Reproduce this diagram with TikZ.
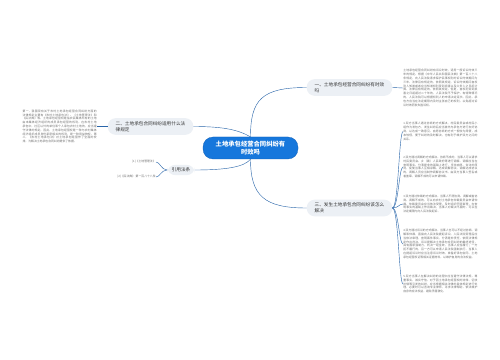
\documentclass[tikz,border=0pt]{standalone}
\usepackage{fontspec}
\newfontfamily\cjk{Noto Sans CJK SC}
\usetikzlibrary{positioning,calc}
\XeTeXlinebreaklocale "zh"
\XeTeXlinebreakskip=0pt plus 1pt
\definecolor{mindBlue}{RGB}{22,119,220}
\definecolor{mindBlueEdge}{RGB}{12,92,180}
\definecolor{mindLine}{RGB}{42,102,170}
\definecolor{mindGrey}{RGB}{236,240,245}
\definecolor{mindText}{RGB}{51,51,51}
\definecolor{mindNote}{RGB}{110,110,110}

\begin{document}
\begin{tikzpicture}[
  x=0.05cm,y=-0.05cm,
  rootnode/.style={
    draw=mindBlueEdge,
    fill=mindBlue,
    rounded corners=0.5cm,
    minimum width=4.75cm,
    minimum height=1.1cm,
    align=center,
    text=white,
    font=\cjk\bfseries\fontsize{9pt}{11.4pt}\selectfont
  },
  branchnode/.style={
    fill=mindGrey,
    rounded corners=0.4cm,
    inner xsep=0.4cm,
    inner ysep=0.15cm,
    align=left,
    text=mindText,
    font=\cjk\fontsize{6.6pt}{9pt}\selectfont
  },
  leafnote/.style={
    anchor=west,
    inner sep=0.3pt,
    text width=3.7cm,
    align=justify,
    text=mindNote,
    font=\cjk\fontsize{4.05pt}{5.4pt}\selectfont
  },
  refnote/.style={
    anchor=east,
    inner sep=0.3pt,
    text=mindNote,
    font=\cjk\fontsize{4.05pt}{5.4pt}\selectfont
  },
  link/.style={draw=mindLine,line width=0.6pt}
]
  \useasboundingbox[fill=white] (0,0) rectangle (500,360);

  \node[rootnode] (root) at (250.5,148) {土地承包经营合同纠纷有\\时效吗};

  \node[branchnode] (timebr) at (349.5,87.5) {一、土地承包经营合同纠纷有时效\\吗};
  \node[branchnode] (lawbr) at (150.5,126.5) {二、土地承包合同纠纷适用什么法\\律规定};
  \node[branchnode] (solvebr) at (349.5,208) {三、发生土地承包合同纠纷该怎么\\解决};
  \node[branchnode,inner xsep=0.22cm] (refbr) at (181,170) {引用法条};

  \node[leafnote] (timenote) at (403,88) {土地承包经营合同纠纷有诉讼时效，适用一般诉讼时效三年的规定。根据《中华人民共和国民法典》第一百八十八条规定，向人民法院请求保护民事权利的诉讼时效期间为三年。法律另有规定的，依照其规定。诉讼时效期间自权利人知道或者应当知道权利受到损害以及义务人之日起计算。法律另有规定的，依照其规定。但是，自权利受到损害之日起超过二十年的，人民法院不予保护，有特殊情况的，人民法院可以根据权利人的申请决定延长。因此，承包方应当在法定期限内及时主张自己的权利，以免超过诉讼时效而丧失胜诉权。};

  \node[leafnote,anchor=east] (lawnote) at (97,126.5) {第一，我国现有关于农村土地承包经营合同纠纷方面的法律规定主要有《农村土地承包法》、《土地管理法》和《民法典》等。土地承包经营权是指农民集体所有的土地由本集体经济组织的成员承包经营的权利。在农村土地承包中，社区以外的单位和个人承包农村土地的，应当遵守法律的规定。因此，土地承包经营权是一种与农村集体经济组织成员身份紧密相关的权利，是一种用益物权。第二，《农村土地承包法》对土地承包经营作了全面的安排，为解决土地承包合同纠纷提供了依据。};

  \node[leafnote] (solve1) at (403,131.5) {1.双方当事人通过协商的方式解决。村民委员会或村民小组作为发包方，发生纠纷后应当首先与承包方进行友好协商，以达成一致意见。自愿协商的方式一般较为简便，成本较低，便于纠纷的及时解决，也有利于维护双方之间的关系。};
  \node[leafnote] (solve2) at (403,167) {2.双方通过调解的方式解决。协商不成的，当事人可以请求村民委员会、乡（镇）人民政府等进行调解。调解应当在查明事实、分清是非的基础上进行，坚持自愿、合法的原则，促使当事人互相谅解，达成调解协议。调解达成协议的，调解人员应当制作调解协议书，由双方当事人签名或者盖章，调解不成的可以申请仲裁。};
  \node[leafnote] (solve3) at (403,204) {3.双方通过仲裁的方式解决。当事人不愿协商、调解或者协商、调解不成的，可以向农村土地承包仲裁委员会申请仲裁。仲裁委员会应当依法受理，及时组织开庭审理，在查明事实的基础上作出裁决，当事人对裁决不服的，可以在法定期限内向人民法院起诉。};
  \node[leafnote] (solve4) at (403,244) {4.双方通过诉讼的方式解决。当事人也可以不经过协商、调解和仲裁，直接向人民法院提起诉讼。人民法院受理后应当依法审理，查明案件事实，分清是非责任，依照法律规定作出判决。诉讼是解决土地承包合同纠纷的最终途径，具有国家强制力，判决一经生效，当事人应当履行；一方拒不履行的，另一方可以申请人民法院强制执行。当事人在提起诉讼时应当注意诉讼时效，准备好承包合同、土地承包经营权证等相关证据材料，以维护自身的合法权益。};
  \node[leafnote] (solve5) at (403,284) {5.双方当事人在解决纠纷的过程中应当遵守法律法规，尊重事实，诚实守信。对于因土地承包经营权的流转、征收补偿等引发的纠纷，应当根据相关法律的具体规定进行处理，必要时可以咨询专业律师，寻求法律帮助，依法维护自身的合法权益，避免矛盾激化。};

  \node[refnote] (ref1) at (156,162) {[1]《土地管理法》};
  \node[refnote] (ref2) at (156,177) {[2]《民法典》 第一百八十八条};

  % root to branches
  \draw[link] (root.north) .. controls +(0,-37) and +(-45,0) .. (timebr.west);
  \draw[link] (root.north) .. controls +(-12,-7) and +(30,0) .. (lawbr.east);
  \draw[link] (root.south) .. controls +(0,37) and +(-42,0) .. (solvebr.west);
  \draw[link] (root.south) .. controls +(-6,8) and +(30,0) .. (refbr.east);

  % branches to notes
  \draw[link] (timebr.east) -- (timenote.west);
  \draw[link] (lawbr.west) -- (lawnote.east);
  \foreach \leaf in {solve1,solve2,solve3,solve4,solve5}
    \draw[link] (solvebr.east) .. controls +(6,0) and +(-4,0) .. (\leaf.west);
  \foreach \leaf in {ref1,ref2}
    \draw[link] (refbr.west) .. controls +(-6,0) and +(4,0) .. (\leaf.east);
\end{tikzpicture}
\end{document}
